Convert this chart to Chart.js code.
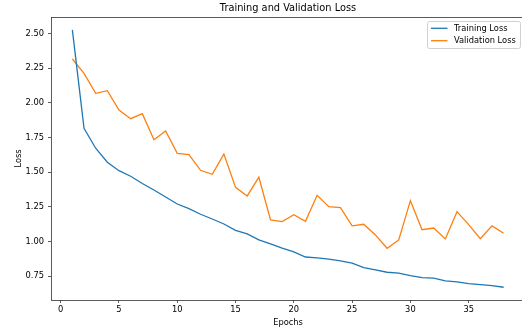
<!DOCTYPE html>
<html>
<head>
<meta charset="utf-8">
<script src="https://cdn.jsdelivr.net/npm/chart.js@4/dist/chart.umd.min.js"></script>
<style>
  html, body { margin: 0; padding: 0; background: #fff; overflow: hidden; }
  canvas { display: block; }
</style>
</head>
<body>
<canvas id="c" width="525" height="332"></canvas>
<script>
const epochs = [1,2,3,4,5,6,7,8,9,10,11,12,13,14,15,16,17,18,19,20,21,22,23,24,25,26,27,28,29,30,31,32,33,34,35,36,37,38];
const trainingLoss = [2.525,1.816,1.672,1.571,1.51,1.47,1.418,1.371,1.32,1.27,1.236,1.196,1.162,1.126,1.08,1.054,1.011,0.982,0.952,0.925,0.888,0.881,0.872,0.86,0.843,0.811,0.795,0.778,0.771,0.754,0.74,0.735,0.716,0.708,0.696,0.689,0.682,0.67];
const validationLoss = [2.315,2.212,2.068,2.087,1.947,1.885,1.921,1.733,1.796,1.635,1.626,1.513,1.484,1.63,1.39,1.328,1.463,1.155,1.143,1.193,1.145,1.333,1.251,1.244,1.112,1.124,1.047,0.951,1.011,1.294,1.085,1.097,1.018,1.215,1.121,1.02,1.112,1.059];
const xTicks = [0,5,10,15,20,25,30,35];
const yTicks = [0.75,1.00,1.25,1.50,1.75,2.00,2.25,2.50];
const seriesNames = ['Training Loss','Validation Loss'];
const seriesColors = ['#1f77b4','#ff7f0e'];

const FONT = 'DejaVu Sans';
const TXT = '#000';

const frameAndLegend = {
  id: 'frameAndLegend',
  afterDatasetsDraw(chart) {
    const {ctx, chartArea: a} = chart;
    ctx.save();
    ctx.strokeStyle = '#333';
    ctx.lineWidth = 0.8;
    ctx.strokeRect(Math.round(a.left) + 0.5, Math.round(a.top) + 0.5, a.right - a.left, a.bottom - a.top);
    // legend
    const bx = 427.5, by = 21.5, bw = 93, bh = 27, r = 2;
    ctx.fillStyle = 'rgba(255,255,255,0.8)';
    ctx.strokeStyle = '#d0d0d0';
    ctx.lineWidth = 1;
    ctx.beginPath();
    ctx.roundRect(bx, by, bw, bh, r);
    ctx.fill();
    ctx.stroke();
    ctx.font = '8.3px "' + FONT + '"';
    ctx.textBaseline = 'middle';
    ctx.textAlign = 'left';
    const rows = [28.3, 40.7];
    seriesNames.forEach((name, i) => {
      ctx.strokeStyle = seriesColors[i];
      ctx.lineWidth = 1.3;
      ctx.beginPath();
      ctx.moveTo(431, rows[i]);
      ctx.lineTo(447.5, rows[i]);
      ctx.stroke();
      ctx.fillStyle = TXT;
      ctx.fillText(name, 454, rows[i] + 0.5);
    });
    ctx.restore();
  }
};

new Chart(document.getElementById('c'), {
  type: 'line',
  data: {
    datasets: [
      { label: seriesNames[0], data: epochs.map((e, i) => ({x: e, y: trainingLoss[i]})),
        borderColor: seriesColors[0], backgroundColor: seriesColors[0], borderWidth: 1.3, pointRadius: 0, tension: 0 },
      { label: seriesNames[1], data: epochs.map((e, i) => ({x: e, y: validationLoss[i]})),
        borderColor: seriesColors[1], backgroundColor: seriesColors[1], borderWidth: 1.3, pointRadius: 0, tension: 0 }
    ]
  },
  options: {
    responsive: false,
    animation: false,
    devicePixelRatio: 1,
    layout: { padding: 0 },
    plugins: {
      legend: { display: false },
      tooltip: { enabled: false },
      title: {
        display: true,
        text: 'Training and Validation Loss',
        fullSize: false,
        color: TXT,
        font: { family: FONT, size: 9.8, weight: 'normal', lineHeight: 1.2 },
        padding: { top: 2.5, bottom: 2.74 }
      }
    },
    scales: {
      x: {
        type: 'linear',
        min: -0.833,
        max: 39.833,
        afterBuildTicks: s => { s.ticks = xTicks.map(v => ({value: v})); },
        afterFit: s => { s.height = 32; },
        grid: { display: true, drawOnChartArea: false, drawTicks: true, tickLength: 3, tickColor: '#333', lineWidth: 0.8 },
        border: { display: false },
        ticks: { color: TXT, font: { family: FONT, size: 8.3 }, padding: 2, maxRotation: 0, autoSkip: false,
                 callback: v => String(v) },
        title: { display: true, text: 'Epochs', color: TXT, font: { family: FONT, size: 8.3 }, padding: { top: 0, bottom: 4.2 } }
      },
      y: {
        type: 'linear',
        min: 0.578,
        max: 2.618,
        afterBuildTicks: s => { s.ticks = yTicks.map(v => ({value: v})); },
        afterFit: s => { s.width = 51; },
        grid: { display: true, drawOnChartArea: false, drawTicks: true, tickLength: 3, tickColor: '#333', lineWidth: 0.8 },
        border: { display: false },
        ticks: { color: TXT, font: { family: FONT, size: 8.3 }, padding: 4, autoSkip: false,
                 callback: v => Number(v).toFixed(2) },
        title: { display: true, text: 'Loss', color: TXT, font: { family: FONT, size: 8.3 }, padding: { top: 13.6, bottom: 0 } }
      }
    }
  },
  plugins: [frameAndLegend]
});
</script>
</body>
</html>
